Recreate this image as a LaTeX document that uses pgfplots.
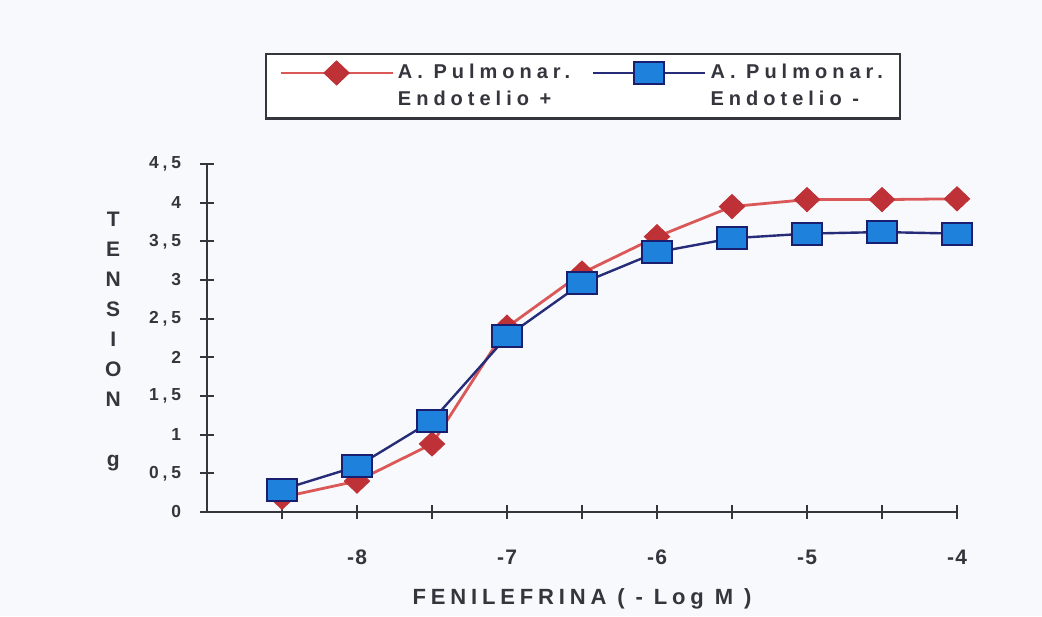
\documentclass[border=0pt]{standalone}
\usepackage{fontspec}
\setmainfont[LetterSpace=22]{Liberation Sans}
\newfontfamily\xtickfont[LetterSpace=6]{Liberation Sans}
\newfontfamily\legfont[LetterSpace=25]{Liberation Sans}
\usepackage{pgfplots}
\pgfplotsset{compat=1.18}
\definecolor{bg}{HTML}{F8F9FC}
\definecolor{txt}{HTML}{35353D}
\definecolor{redline}{HTML}{DB5858}
\definecolor{redmark}{HTML}{BE3237}
\definecolor{navy}{HTML}{262C78}
\definecolor{bluefill}{HTML}{1E82DC}
\definecolor{bluedraw}{HTML}{191E6E}
\begin{document}
\begin{tikzpicture}
\path[use as bounding box, fill=bg] (-103.5pt,-52pt) rectangle (417.5pt,256pt);
\begin{axis}[
  at={(0,0)}, anchor=south west,
  scale only axis, width=375pt, height=174pt,
  xmin=-9, xmax=-4, ymin=0, ymax=4.5,
  axis lines=left,
  axis line style={-, line width=1.2pt, color=txt},
  tick style={line width=1pt, color=txt},
  major tick length=7pt, tick align=center,
  xtick={-8.5,-8,-7.5,-7,-6.5,-6,-5.5,-5,-4.5,-4},
  xticklabels={,-8,,-7,,-6,,-5,,-4},
  ytick={0,0.5,1,1.5,2,2.5,3,3.5,4,4.5},
  yticklabels={0,{0,5},1,{1,5},2,{2,5},3,{3,5},4,{4,5}},
  xticklabel style={font=\xtickfont\fontsize{10.5}{12}\selectfont\bfseries, text=txt, anchor=center, yshift=-19pt},
  yticklabel style={font=\fontsize{8.7}{10}\selectfont\bfseries, text=txt, anchor=east, xshift=-6pt},
  xlabel={FENILEFRINA ( - Log M )},
  xlabel style={font=\fontsize{11}{12}\selectfont\bfseries, text=txt, at={(axis description cs:0.5,0)}, anchor=center, yshift=-43.5pt},
  ylabel={T\\E\\N\\S\\I\\O\\N\\[15pt]g},
  ylabel style={font=\fontsize{10.5}{15}\selectfont\bfseries, text=txt, align=center, rotate=-90, at={(axis description cs:-0.125,0.49)}, anchor=center},
  legend columns=2,
  legend cell align=left,
  legend style={at={(axis description cs:0.0773,1.319)}, anchor=north west,
    draw=txt, line width=1.2pt, fill=white,
    font=\legfont\fontsize{10}{13.5}\selectfont\bfseries, text=txt,
    cells={align=left},
    inner xsep=6.5pt, inner ysep=3pt,
    /tikz/every even column/.append style={column sep=9pt}},
  legend image code/.code={\draw[mark repeat=2,mark phase=2, yshift=6.75pt] plot coordinates {(0pt,0pt)(28pt,0pt)(56pt,0pt)};},
]
\addplot[color=redline, line width=1.4pt, mark=diamond*, mark size=6pt,
  mark options={solid, xscale=1.4, fill=redmark, draw=redmark, line width=0.5pt}]
  coordinates {(-8.5,0.19)(-8,0.40)(-7.5,0.88)(-7,2.39)(-6.5,3.09)(-6,3.56)(-5.5,3.95)(-5,4.04)(-4.5,4.04)(-4,4.05)};
\addlegendentry{A. Pulmonar.\\Endotelio +}
\addplot[color=navy, line width=1.2pt, mark=square*, mark size=5.5pt,
  mark options={solid, xscale=1.36, fill=bluefill, draw=bluedraw, line width=1pt}]
  coordinates {(-8.5,0.29)(-8,0.59)(-7.5,1.18)(-7,2.27)(-6.5,2.96)(-6,3.36)(-5.5,3.54)(-5,3.60)(-4.5,3.62)(-4,3.60)};
\addlegendentry{A. Pulmonar.\\Endotelio -}
\end{axis}
\end{tikzpicture}
\end{document}
